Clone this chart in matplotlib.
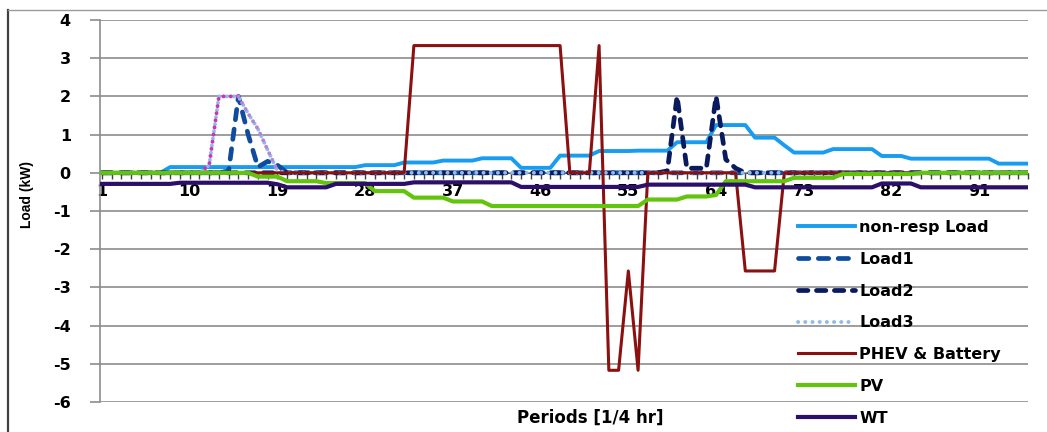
import numpy as np
import matplotlib
matplotlib.use('Agg')
import matplotlib.pyplot as plt
from matplotlib.lines import Line2D
from matplotlib.ticker import FixedLocator, FuncFormatter

plt.rcParams['axes.unicode_minus'] = False

# periods 1..96 (quarter hours)
periods = np.arange(1, 97)

non_resp = [0, 0, 0, 0, 0, 0, 0, 0.15, 0.15, 0.15, 0.15, 0.15,
            0.15, 0.15, 0.15, 0.15, 0.15, 0.15, 0.15, 0.15, 0.15, 0.15, 0.15, 0.15,
            0.15, 0.15, 0.15, 0.2, 0.2, 0.2, 0.2, 0.27, 0.27, 0.27, 0.27, 0.32,
            0.32, 0.32, 0.32, 0.38, 0.38, 0.38, 0.38, 0.13, 0.13, 0.13, 0.13, 0.45,
            0.45, 0.45, 0.45, 0.57, 0.57, 0.57, 0.57, 0.58, 0.58, 0.58, 0.58, 0.8,
            0.8, 0.8, 0.8, 1.25, 1.25, 1.25, 1.25, 0.92, 0.92, 0.92, 0.72, 0.53,
            0.53, 0.53, 0.53, 0.62, 0.62, 0.62, 0.62, 0.62, 0.44, 0.44, 0.44, 0.37,
            0.37, 0.37, 0.37, 0.37, 0.37, 0.37, 0.37, 0.37, 0.24, 0.24, 0.24, 0.24]

load1 = [0, 0, 0, 0, 0, 0, 0, 0, 0, 0, 0, 0,
         0, 0.05, 2.0, 1.0, 0.15, 0.3, 0.2, 0, 0, 0, 0, 0,
         0, 0, 0, 0, 0, 0, 0, 0, 0, 0, 0, 0,
         0, 0, 0, 0, 0, 0, 0, 0, 0, 0, 0, 0,
         0, 0, 0, 0, 0, 0, 0, 0, 0, 0, 0, 0,
         0, 0, 0, 0, 0, 0, 0, 0, 0, 0, 0, 0,
         0, 0, 0, 0, 0, 0, 0, 0, 0, 0, 0, 0,
         0, 0, 0, 0, 0, 0, 0, 0, 0, 0, 0, 0]

load2 = [0, 0, 0, 0, 0, 0, 0, 0, 0, 0, 0, 0,
         0, 0, 0, 0, 0, 0, 0, 0, 0, 0, 0, 0,
         0, 0, 0, 0, 0, 0, 0, 0, 0, 0, 0, 0,
         0, 0, 0, 0, 0, 0, 0, 0, 0, 0, 0, 0,
         0, 0, 0, 0, 0, 0, 0, 0, 0, 0, 0.05, 2.0,
         0.12, 0.12, 0.12, 2.0, 0.35, 0.12, 0, 0, 0, 0, 0, 0,
         0, 0, 0, 0, 0, 0, 0, 0, 0, 0, 0, 0,
         0, 0, 0, 0, 0, 0, 0, 0, 0, 0, 0, 0]

load3 = [0, 0, 0, 0, 0, 0, 0, 0, 0, 0, 0, 0.2,
         2.0, 2.0, 2.0, 1.55, 1.15, 0.6, 0.05, 0, 0, 0, 0, 0,
         0, 0, 0, 0, 0, 0, 0, 0, 0, 0, 0, 0,
         0, 0, 0, 0, 0, 0, 0, 0, 0, 0, 0, 0,
         0, 0, 0, 0, 0, 0, 0, 0, 0, 0, 0, 0,
         0, 0, 0, 0, 0, 0, 0, 0, 0, 0, 0, 0,
         0, 0, 0, 0, 0, 0, 0, 0, 0, 0, 0, 0,
         0, 0, 0, 0, 0, 0, 0, 0, 0, 0, 0, 0]

phev = [0, 0, 0, 0, 0, 0, 0, 0, 0, 0, 0, 0,
        0, 0, 0, 0, 0, 0, 0, 0, 0, 0, 0, 0,
        0, 0, 0, 0, 0, 0, 0, 0, 3.33, 3.33, 3.33, 3.33,
        3.33, 3.33, 3.33, 3.33, 3.33, 3.33, 3.33, 3.33, 3.33, 3.33, 3.33, 3.33,
        0, 0, 0, 3.33, -5.17, -5.17, -2.57, -5.17, 0, 0, 0, 0,
        0, 0, 0, 0, 0, 0, -2.57, -2.57, -2.57, -2.57, 0, 0,
        0, 0, 0, 0, 0, 0, 0, 0, 0, 0, 0, 0,
        0, 0, 0, 0, 0, 0, 0, 0, 0, 0, 0, 0]

pv = [0, 0, 0, 0, 0, 0, 0, 0, 0, 0, 0, 0,
      0, 0, 0, 0, -0.1, -0.1, -0.1, -0.22, -0.22, -0.22, -0.22, -0.27,
      -0.27, -0.27, -0.27, -0.27, -0.48, -0.48, -0.48, -0.48, -0.65, -0.65, -0.65, -0.65,
      -0.75, -0.75, -0.75, -0.75, -0.87, -0.87, -0.87, -0.87, -0.87, -0.87, -0.87, -0.87,
      -0.87, -0.87, -0.87, -0.87, -0.87, -0.87, -0.87, -0.87, -0.7, -0.7, -0.7, -0.7,
      -0.62, -0.62, -0.62, -0.58, -0.22, -0.22, -0.22, -0.22, -0.22, -0.22, -0.22, -0.13,
      -0.13, -0.13, -0.13, -0.13, -0.03, -0.03, -0.03, -0.03, -0.03, -0.03, -0.03, -0.03,
      0, 0, 0, 0, 0, 0, 0, 0, 0, 0, 0, 0]

wt = [-0.29, -0.29, -0.29, -0.29, -0.29, -0.29, -0.29, -0.29, -0.26, -0.26, -0.26, -0.26,
      -0.26, -0.26, -0.26, -0.26, -0.26, -0.26, -0.3, -0.38, -0.38, -0.38, -0.38, -0.38,
      -0.29, -0.29, -0.29, -0.29, -0.29, -0.29, -0.29, -0.29, -0.25, -0.25, -0.25, -0.25,
      -0.25, -0.25, -0.25, -0.25, -0.25, -0.25, -0.25, -0.37, -0.37, -0.37, -0.37, -0.37,
      -0.37, -0.37, -0.37, -0.37, -0.37, -0.37, -0.37, -0.37, -0.31, -0.31, -0.31, -0.31,
      -0.31, -0.31, -0.31, -0.31, -0.31, -0.31, -0.31, -0.38, -0.38, -0.38, -0.38, -0.38,
      -0.38, -0.38, -0.38, -0.38, -0.38, -0.38, -0.38, -0.38, -0.28, -0.28, -0.28, -0.28,
      -0.38, -0.38, -0.38, -0.38, -0.38, -0.38, -0.38, -0.38, -0.38, -0.38, -0.38, -0.38]

x_labels = [1, 10, 19, 28, 37, 46, 55, 64, 73, 82, 91]


W, H = 1047, 432
fig = plt.figure(figsize=(W / 100, H / 100), dpi=100)
fig.patch.set_facecolor('white')

# outer chart frame (cut off at right and bottom like the original)
fig.add_artist(Line2D([8 / W, 8 / W], [0, 1 - 10 / H], transform=fig.transFigure,
                      color='#404040', lw=1.6))
fig.add_artist(Line2D([8 / W, 1], [1 - 10 / H, 1 - 10 / H], transform=fig.transFigure,
                      color='#9a9a9a', lw=1.0))

ax = fig.add_axes([100 / W, 30 / H, 928 / W, 382 / H])

grid_col = '#8c8c8c'
ax.set_ylim(-6, 4)
ax.set_xlim(0.8, 96)
ax.set_yticks(range(-6, 5))
ax.yaxis.grid(True, color=grid_col, lw=1.2)
ax.set_axisbelow(True)

for s in ['top', 'right']:
    ax.spines[s].set_visible(False)
ax.spines['left'].set_color(grid_col)
ax.spines['left'].set_linewidth(1.2)
ax.spines['bottom'].set_position(('data', 0))
ax.spines['bottom'].set_color('#606060')

ax.xaxis.set_major_locator(FixedLocator(periods))
ax.xaxis.set_major_formatter(FuncFormatter(lambda v, pos: str(int(v)) if int(v) in x_labels else ''))
ax.tick_params(axis='x', direction='out', length=4, width=1, color='#404040', pad=4,
               labelsize=11.5)
ax.tick_params(axis='y', direction='out', length=7, width=1.2, color=grid_col, pad=14,
               labelsize=11.5)
for lab in ax.get_xticklabels() + ax.get_yticklabels():
    lab.set_fontweight('bold')

ax.plot(periods, non_resp, color='#189cf0', lw=2.8, label='non-resp Load', zorder=3)
ax.plot(periods, load1, color='#0f4c9e', lw=3.4, ls=(0, (2.2, 2.0)),
        dash_capstyle='round', label='Load1', zorder=4)
ax.plot(periods, load2, color='#0a1a5e', lw=3.4, ls=(0, (2.0, 1.8)),
        dash_capstyle='round', label='Load2', zorder=5)
ax.plot(periods, load3, color='#8fbbe8', lw=2.8, ls=(0, (0.05, 1.8)),
        dash_capstyle='round', label='Load3', zorder=6)
ax.plot(periods[10:15], load3[10:15], color='#c837b0', lw=2.8, ls=(0, (0.05, 1.8)),
        dash_capstyle='round', zorder=6)
ax.plot(periods[14:19], load3[14:19], color='#b683d6', lw=2.8, ls=(0, (0.05, 1.8)),
        dash_capstyle='round', zorder=6)
ax.plot(periods, phev, color='#8b1010', lw=2.2, label='PHEV & Battery', zorder=7)
ax.plot(periods, pv, color='#62c40c', lw=3.0, label='PV', zorder=8)
ax.plot(periods, wt, color='#2c0e6b', lw=3.0, label='WT', zorder=9)

leg = ax.legend(loc='upper left', bbox_to_anchor=(790 / W, 1 - 212 / H),
                bbox_transform=fig.transFigure, frameon=False, borderpad=0,
                handlelength=3.6, handletextpad=0.25, labelspacing=1.05,
                prop={'weight': 'bold', 'size': 11.5})

fig.text(590 / W, 1 - 418 / H, 'Periods [1/4 hr]', ha='center', va='center',
         fontsize=12, fontweight='bold')
fig.text(27 / W, 1 - 195 / H, 'Load (kW)', rotation=90, ha='center', va='center',
         fontsize=10, fontweight='bold', family='Liberation Sans')

fig.savefig('out.png', dpi=100)
